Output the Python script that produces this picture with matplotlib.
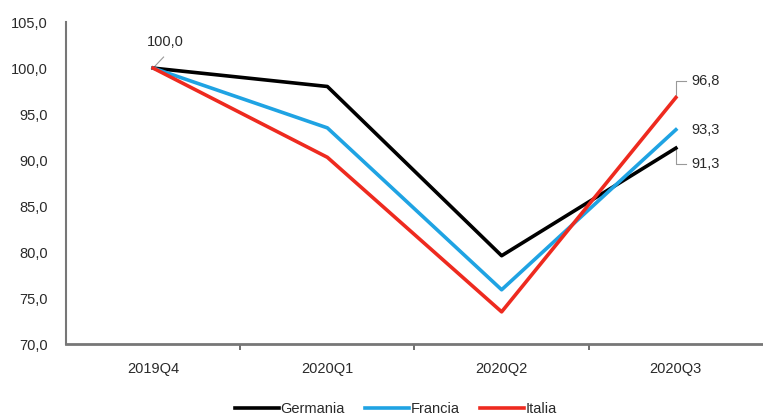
import matplotlib
matplotlib.use("Agg")
import matplotlib.pyplot as plt

categories = ["2019Q4", "2020Q1", "2020Q2", "2020Q3"]
germania = [100.0, 98.0, 79.6, 91.3]
francia = [100.0, 93.5, 75.9, 93.3]
italia = [100.0, 90.3, 73.5, 96.8]

plt.rcParams['font.family'] = ['Liberation Sans', 'DejaVu Sans']
FS = 10.5
TC = "#2a2a2a"

fig = plt.figure(figsize=(7.63, 4.17), dpi=100)
ax = fig.add_axes([0.0865, 0.175, 0.9135, 0.772])

x = list(range(len(categories)))
ax.plot(x, germania, color="#000000", lw=2.6, label="Germania", zorder=3)
ax.plot(x, francia, color="#1fa3e3", lw=2.6, label="Francia", zorder=3)
ax.plot(x, italia, color="#ee2a1f", lw=2.6, label="Italia", zorder=4)

ax.set_xlim(-0.5, 3.5)
ax.set_ylim(70, 105)
ax.set_yticks([70, 75, 80, 85, 90, 95, 100, 105])
ax.set_yticklabels([f"{v:.1f}".replace(".", ",") for v in ax.get_yticks()], fontsize=FS, color=TC)
ax.set_xticks(x)
ax.set_xticklabels(categories, fontsize=FS, color=TC)
ax.tick_params(axis='x', length=0, pad=13)
ax.set_xticks([0.5, 1.5, 2.5], minor=True)
ax.tick_params(axis='x', which='minor', length=4, width=1.2, color="#555555")
ax.tick_params(axis='y', length=0, pad=13)

for s in ["top", "right"]:
    ax.spines[s].set_visible(False)
ax.spines["left"].set_color("#777777")
ax.spines["left"].set_linewidth(1.5)
ax.spines["bottom"].set_color("#777777")
ax.spines["bottom"].set_linewidth(2)

gray = "#999999"
# 100,0 label
ax.plot([0, 0.06], [100, 101.2], color=gray, lw=0.8)
ax.text(0.07, 102.8, "100,0", fontsize=FS, color=TC, va="center", ha="center")
# right labels
ax.plot([3.0, 3.0, 3.06], [96.8, 98.6, 98.6], color=gray, lw=0.8)
ax.text(3.09, 98.6, f"{italia[-1]:.1f}".replace(".", ","), fontsize=FS, color=TC, va="center")
ax.text(3.09, 93.3, f"{francia[-1]:.1f}".replace(".", ","), fontsize=FS, color=TC, va="center")
ax.plot([3.0, 3.0, 3.06], [91.3, 89.6, 89.6], color=gray, lw=0.8)
ax.text(3.09, 89.6, f"{germania[-1]:.1f}".replace(".", ","), fontsize=FS, color=TC, va="center")

leg = fig.legend(loc="lower center", bbox_to_anchor=(0.519, -0.03), ncol=3, frameon=False,
                 fontsize=FS, handlelength=3.0, handletextpad=0.1, columnspacing=1.4)
for t in leg.get_texts():
    t.set_color(TC)

fig.savefig("out.png", dpi=100)
